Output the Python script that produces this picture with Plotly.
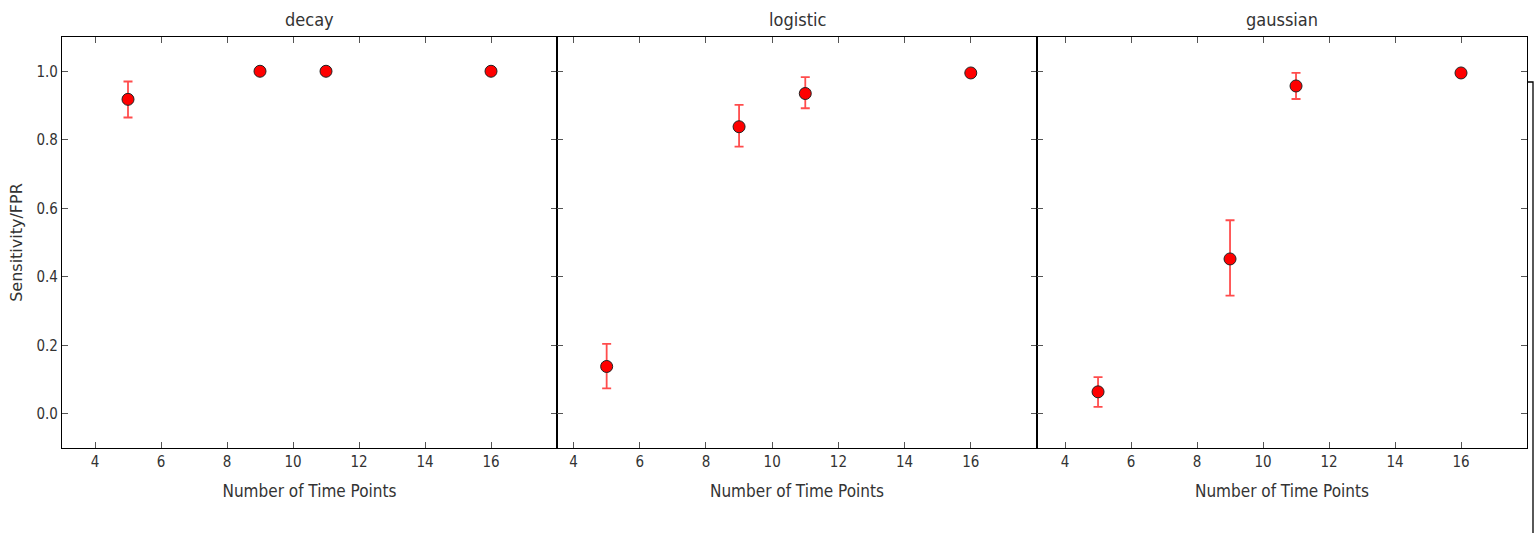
import plotly.graph_objects as go

# ---- data ----
time_points = [5, 9, 11, 16]
panel_titles = ["decay", "logistic", "gaussian"]

decay_y = [0.918, 1.0, 1.0, 1.0]
decay_err_plus = [0.052, 0.0, 0.0, 0.0]
decay_err_minus = [0.053, 0.0, 0.0, 0.0]

logistic_y = [0.138, 0.838, 0.935, 0.995]
logistic_err_plus = [0.066, 0.064, 0.048, 0.003]
logistic_err_minus = [0.064, 0.058, 0.043, 0.003]

gaussian_y = [0.064, 0.452, 0.957, 0.995]
gaussian_err_plus = [0.043, 0.113, 0.038, 0.003]
gaussian_err_minus = [0.044, 0.107, 0.038, 0.003]

y_ticks = [0.0, 0.2, 0.4, 0.6, 0.8, 1.0]
x_ticks = [4, 6, 8, 10, 12, 14, 16]
x_ranges = [[3, 18], [3.5, 18], [3.15, 18]]

series = [
    (decay_y, decay_err_plus, decay_err_minus),
    (logistic_y, logistic_err_plus, logistic_err_minus),
    (gaussian_y, gaussian_err_plus, gaussian_err_minus),
]

# body margin is removed by the post script, so the figure fills the window
W, H = 1539, 533
PX_L, PX_R, PX_T, PX_B = 62, 1527, 37, 448
ML, MT = PX_L, PX_T
MR, MB = W - PX_R, H - PX_B
PW = W - ML - MR
PH = H - MT - MB
edges_px = [62, 557, 1037, 1527]
domains = [[(edges_px[i] - PX_L) / PW, (edges_px[i + 1] - PX_L) / PW] for i in range(3)]
domains[-1][1] = 1.0

FONT_H = "DejaVu Sans Condensed, DejaVu Sans"
FONT_V = "DejaVu Sans"
TXT = "#333333"

fig = go.Figure()
for i, (yv, ep, em) in enumerate(series):
    xa = "x" if i == 0 else f"x{i+1}"
    ya = "y" if i == 0 else f"y{i+1}"
    fig.add_trace(go.Scatter(
        x=time_points, y=yv, mode="markers",
        xaxis=xa, yaxis=ya, showlegend=False,
        marker=dict(symbol="circle", size=12, color="#ff0000",
                    line=dict(color="#222222", width=1)),
        error_y=dict(type="data", symmetric=False, array=ep, arrayminus=em,
                     color="rgba(255,0,0,0.7)", thickness=1.8, width=4.5),
    ))

layout = dict(
    width=W, height=H,
    margin=dict(l=ML, r=MR, t=MT, b=MB),
    paper_bgcolor="white", plot_bgcolor="white",
    font=dict(family=FONT_H, size=15, color=TXT),
)
for i in range(3):
    xk = "xaxis" if i == 0 else f"xaxis{i+1}"
    yk = "yaxis" if i == 0 else f"yaxis{i+1}"
    layout[xk] = dict(
        domain=domains[i], range=x_ranges[i], anchor="y" if i == 0 else f"y{i+1}",
        tickvals=x_ticks, ticks="inside", ticklen=6, tickcolor="#555555",
        showline=True, linecolor="black", linewidth=1.3, mirror="allticks",
        showgrid=False, zeroline=False, automargin=False,
        title=dict(text="Number of Time Points", font=dict(size=17, color=TXT, family=FONT_H), standoff=14),
        tickfont=dict(size=15, color=TXT, family=FONT_H),
    )
    layout[yk] = dict(
        domain=[0, 1], range=[-0.1, 1.1], anchor="x" if i == 0 else f"x{i+1}",
        tickvals=y_ticks, ticktext=[f"{v:.1f}" for v in y_ticks],
        showticklabels=(i == 0),
        ticks="inside", ticklen=6, tickcolor="#555555",
        showline=True, linecolor="black", linewidth=1.3, mirror="allticks",
        showgrid=False, zeroline=False, automargin=False,
        tickfont=dict(size=15, color=TXT, family=FONT_H),
    )
layout["yaxis"]["title"] = dict(text="Sensitivity/FPR", font=dict(size=16, color=TXT, family=FONT_V), standoff=9)

annotations = []
for i, t in enumerate(panel_titles):
    annotations.append(dict(
        text=t, x=(domains[i][0] + domains[i][1]) / 2, y=1, xref="paper", yref="paper",
        xanchor="center", yanchor="bottom", yshift=5, showarrow=False,
        font=dict(size=18, color=TXT, family=FONT_H),
    ))
layout["annotations"] = annotations

# stray frame line at right edge seen in the reference (drawn in pixel units)
ytop = (PX_B - 82) / PH
layout["shapes"] = [
    dict(type="path", xref="paper", yref="paper", xsizemode="pixel", ysizemode="pixel",
         xanchor=1.0, yanchor=ytop,
         path="M 0 0 L 6 0 L 6 -460",
         layer="above", line=dict(color="black", width=1.3)),
]

fig.update_layout(**layout)
fig.write_html(
    "out.html",
    config={"displayModeBar": False},
    post_script="document.body.style.margin='0';document.body.style.overflow='hidden';",
)
